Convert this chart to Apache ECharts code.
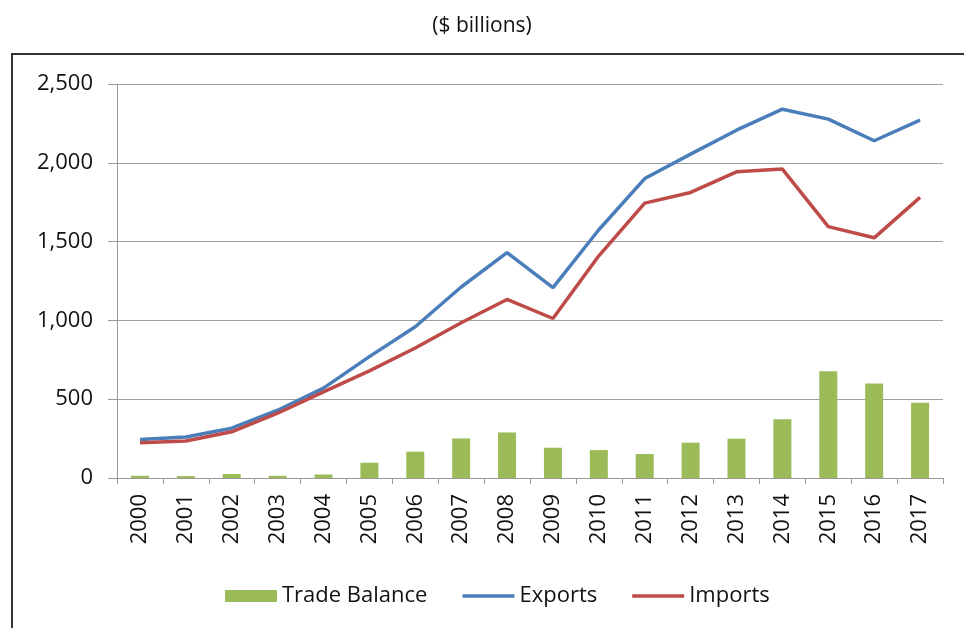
<!DOCTYPE html>
<html>
<head>
<meta charset="utf-8">
<script src="https://cdn.jsdelivr.net/npm/echarts@6/dist/echarts.min.js"></script>
<style>
  html, body { margin: 0; padding: 0; background: #fff; }
  #chart { width: 964px; height: 628px; }
</style>
</head>
<body>
<div id="chart"></div>
<script>
// values in $ billions
const years = ['2000', '2001', '2002', '2003', '2004', '2005', '2006', '2007', '2008',
  '2009', '2010', '2011', '2012', '2013', '2014', '2015', '2016', '2017']
const tradeBalance = [14, 12, 25, 14, 22, 97, 167, 251, 289, 192, 177, 152, 224, 249, 372, 677, 600, 477]
const exportsData = [245, 260, 316, 430, 570, 770, 960, 1212, 1430, 1208, 1575, 1900, 2055, 2207, 2340, 2277, 2140, 2271]
const importsData = [223, 235, 293, 411, 546, 680, 825, 985, 1133, 1012, 1410, 1744, 1812, 1943, 1960, 1595, 1524, 1781]

const font = 'Open Sans'
const lineIcon = 'path://M0,0H52V3.5H0Z'
const chart = echarts.init(document.getElementById('chart'))

chart.setOption({
  backgroundColor: '#fff',
  textStyle: { fontFamily: font },
  title: {
    text: '($ billions)',
    left: 'center',
    top: 11,
    textStyle: { fontFamily: font, fontSize: 21, fontWeight: 'normal', color: '#111' }
  },
  graphic: [
    // outer chart-area frame (top and left edges are visible in the reference)
    { type: 'line', shape: { x1: 11, y1: 54, x2: 964, y2: 54 }, style: { stroke: '#333', lineWidth: 2 } },
    { type: 'line', shape: { x1: 12, y1: 54, x2: 12, y2: 628 }, style: { stroke: '#333', lineWidth: 2 } }
  ],
  legend: {
    left: 220,
    top: 580,
    itemWidth: 52,
    itemHeight: 12,
    itemGap: 35,
    textStyle: { fontFamily: font, fontSize: 22, color: '#111' },
    data: [
      { name: 'Trade Balance', icon: 'rect' },
      { name: 'Exports', icon: lineIcon },
      { name: 'Imports', icon: lineIcon }
    ]
  },
  grid: {
    left: 117,
    right: 21,
    top: 84,
    bottom: 150
  },
  xAxis: {
    type: 'category',
    data: years,
    axisLine: { lineStyle: { color: '#999', width: 1 } },
    axisTick: { show: true, length: 6, lineStyle: { color: '#999' } },
    axisLabel: {
      rotate: 90,
      margin: 16,
      fontSize: 22,
      color: '#111',
      fontFamily: font
    }
  },
  yAxis: {
    type: 'value',
    min: 0,
    max: 2500,
    interval: 500,
    axisLine: { show: true, lineStyle: { color: '#999', width: 1 } },
    axisTick: { show: true, length: 9, lineStyle: { color: '#999' } },
    splitLine: { lineStyle: { color: '#a0a0a0', width: 1 } },
    axisLabel: {
      margin: 24,
      fontSize: 22,
      color: '#111',
      fontFamily: font,
      formatter: v => v.toLocaleString('en-US')
    }
  },
  series: [
    {
      name: 'Trade Balance',
      type: 'bar',
      data: tradeBalance,
      barWidth: 18,
      itemStyle: { color: '#9bbb59' }
    },
    {
      name: 'Exports',
      type: 'line',
      data: exportsData,
      symbol: 'none',
      lineStyle: { color: '#4a7ebb', width: 3.5 },
      itemStyle: { color: '#4a7ebb' }
    },
    {
      name: 'Imports',
      type: 'line',
      data: importsData,
      symbol: 'none',
      lineStyle: { color: '#be4b48', width: 3.5 },
      itemStyle: { color: '#be4b48' }
    }
  ]
})
</script>
</body>
</html>
